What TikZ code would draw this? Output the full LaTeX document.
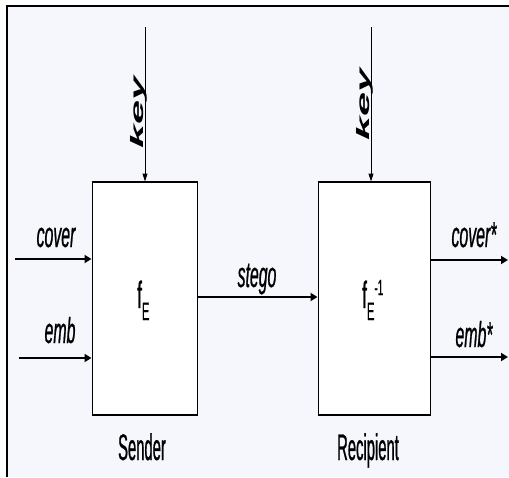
\documentclass[tikz,border=0pt]{standalone}
\usepackage{fontspec}
\usetikzlibrary{arrows.meta}
\newfontfamily\lblfont[FakeStretch=0.44, FakeBold=0.6]{Liberation Sans}
\newfontfamily\namefont[FakeStretch=0.4, FakeBold=0.6]{Liberation Sans}
\newfontfamily\fnfont[FakeStretch=0.45, FakeBold=0.6]{Liberation Sans}
\newfontfamily\keyfont[FakeStretch=2.4]{Liberation Sans}
\definecolor{paper}{RGB}{245,247,253}
\tikzset{
  blockbox/.style={draw=black, line width=1pt, fill=white, inner sep=0pt},
  flow/.style={line width=2pt, -{Triangle[length=7pt,width=8pt]}},
  keyflow/.style={line width=1pt, -{Triangle[length=8pt,width=5pt]}},
  lbl/.style={font=\lblfont\itshape\fontsize{36}{36}\selectfont, anchor=base, inner sep=0pt},
  roles/.style={font=\namefont\fontsize{37}{37}\selectfont, anchor=base, inner sep=0pt},
  keylbl/.style={font=\keyfont\bfseries\itshape\fontsize{18}{18}\selectfont, rotate=90, anchor=base, inner sep=0pt},
  fn/.style={font=\fnfont\fontsize{38}{38}\selectfont, anchor=base west, inner sep=0pt}
}
\begin{document}
\begin{tikzpicture}[x=1pt, y=-1pt]
  \useasboundingbox (0,0) rectangle (509,477);
  % page frame
  \fill[white] (0,0) rectangle (509,477);
  \fill[paper] (7,6) rectangle (509,477);
  \draw[line width=2pt] (7,477) -- (7,6) -- (509,6);

  % the two processing blocks
  \node[blockbox, minimum width=105pt, minimum height=232pt] (snd) at (144.5,298) {};
  \node[blockbox, minimum width=112pt, minimum height=232pt] (rcp) at (374,298) {};
  \draw[line width=2pt] (snd.north west) -- (snd.north east);
  \draw[line width=2pt] (snd.south west) -- (snd.south east);
  \draw[line width=2pt] (rcp.north west) -- (rcp.north east);
  \draw[line width=2pt] (rcp.south west) -- (rcp.south east);

  % functions inside the blocks
  \node[fn] (fe) at (137,308) {f\raisebox{-12pt}{\fontsize{25}{25}\selectfont E}};
  \node[fn] (fei) at (362,308) {f\raisebox{-12pt}{\fontsize{25}{25}\selectfont E}\raisebox{13pt}{\fontsize{22}{22}\selectfont -1}};

  % key inputs
  \coordinate (k1) at (145,27);
  \coordinate (k2) at (371,27);
  \draw[keyflow] (k1) -- (k1 |- snd.north);
  \draw[keyflow] (k2) -- (k2 |- rcp.north);
  \node[keylbl] (key1) at (143,112) {key};
  \node[keylbl] (key2) at (369,104) {key};

  % sender inputs
  \coordinate (cin) at (15,259);
  \coordinate (ein) at (19,358);
  \draw[flow] (cin) -- (cin -| snd.west);
  \draw[flow] (ein) -- (ein -| snd.west);
  \node[lbl] (cover) at (56,247) {cover};
  \node[lbl] (emb) at (60,343) {emb};

  % stego channel
  \draw[flow] (snd.east |- 0,297) -- (rcp.west |- 0,297);
  \node[lbl] (stego) at (257,287) {stego};

  % recipient outputs
  \coordinate (cout) at (508,260);
  \coordinate (eout) at (508,357);
  \draw[flow] (cout -| rcp.east) -- (cout);
  \draw[flow] (eout -| rcp.east) -- (eout);
  \node[lbl] (coverx) at (474,247) {cover*};
  \node[lbl] (embx) at (474,347) {emb*};

  % block captions
  \node[roles] (sender) at (142,460) {Sender};
  \node[roles] (recipient) at (368,460) {Recipient};
\end{tikzpicture}
\end{document}
